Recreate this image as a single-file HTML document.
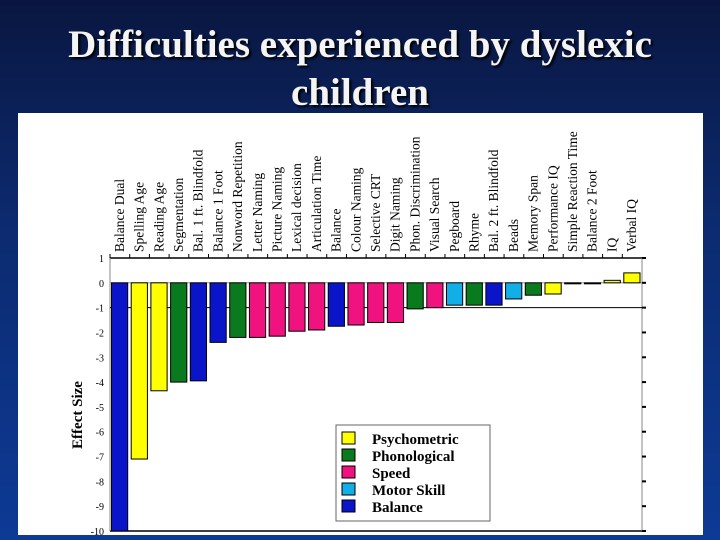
<!DOCTYPE html>
<html><head><meta charset="utf-8"><style>
html,body{margin:0;padding:0}
body{width:720px;height:540px;overflow:hidden;background:linear-gradient(180deg,#0a1640 0%,#0c2a6e 40%,#0d3a96 100%);font-family:"Liberation Serif",serif;position:relative}
#title{position:absolute;left:0;top:21px;width:720px;text-align:center;color:#f4f4f4;font-size:39px;font-weight:bold;line-height:48px;text-shadow:2px 2px 2px #000}
#panel{position:absolute;left:18px;top:113px;width:685px;height:422px;background:#fff}
svg{position:absolute;left:0;top:0}
</style></head><body>
<div id="title">Difficulties experienced by dyslexic<br>children</div>
<div id="panel"></div>
<svg id="chart" width="720" height="540"></svg>
<script>
const categories=["Balance Dual","Spelling Age","Reading Age","Segmentation","Bal. 1 ft. Blindfold","Balance 1 Foot","Nonword Repetition","Letter Naming","Picture Naming","Lexical decision","Articulation Time","Balance","Colour Naming","Selective CRT","Digit Naming","Phon. Discrimination","Visual Search","Pegboard","Rhyme","Bal. 2 ft. Blindfold","Beads","Memory Span","Performance IQ","Simple Reaction Time","Balance 2 Foot","IQ","Verbal IQ"];
const values=[-10,-7.1,-4.35,-4.0,-3.95,-2.4,-2.2,-2.2,-2.15,-1.95,-1.9,-1.75,-1.7,-1.6,-1.6,-1.05,-1.0,-0.9,-0.9,-0.9,-0.65,-0.5,-0.45,-0.02,-0.02,0.1,0.4];
const groups=["Balance","Psychometric","Psychometric","Phonological","Balance","Balance","Phonological","Speed","Speed","Speed","Speed","Balance","Speed","Speed","Speed","Phonological","Speed","Motor Skill","Phonological","Balance","Motor Skill","Phonological","Psychometric","Speed","Balance","Psychometric","Psychometric"];
const legendLabels=["Psychometric","Phonological","Speed","Motor Skill","Balance"];
const yTicks=[1,0,-1,-2,-3,-4,-5,-6,-7,-8,-9,-10];
const colors={"Psychometric":"#ffff00","Phonological":"#0a7a1e","Speed":"#f0127e","Motor Skill":"#12aee8","Balance":"#0a14c8"};
const NS="http://www.w3.org/2000/svg";
const svg=document.getElementById('chart');
const X0=110,X1=642,Ytop=258,Ybot=531;
const yMax=1,yMin=-10;
function y(v){return Ytop+(yMax-v)/(yMax-yMin)*(Ybot-Ytop);}
const bw=(X1-X0)/categories.length;
function x(i){return X0+i*bw;}
function mk(t,a){const e=document.createElementNS(NS,t);for(const k in a)e.setAttribute(k,a[k]);svg.appendChild(e);return e;}
let e=mk('line',{x1:X0,y1:Ytop,x2:X1,y2:Ytop,stroke:'#000','stroke-width':1.5});

e=mk('line',{x1:X0,y1:Ybot,x2:X1,y2:Ybot,stroke:'#000','stroke-width':1.5});

e=mk('line',{x1:X0,y1:Ytop,x2:X0,y2:Ybot,stroke:'#888','stroke-width':1});

e=mk('line',{x1:X1,y1:Ytop,x2:X1,y2:Ybot,stroke:'#888','stroke-width':1});

e=mk('line',{x1:X0,y1:y(-1),x2:X1,y2:y(-1),stroke:'#000','stroke-width':1});

e=mk('line',{x1:X0,y1:y(0),x2:X1,y2:y(0),stroke:'#888','stroke-width':0.8});

yTicks.forEach(t=>{
 const tx=mk('text',{x:X0-6,y:y(t)+4,'text-anchor':'end','font-size':10,'font-family':'Liberation Serif, serif'});
 tx.textContent=t;
 
 const tk=mk('line',{x1:X1,y1:y(t),x2:X1+4,y2:y(t),stroke:'#000','stroke-width':2});
 
});
const yt=mk('text',{x:82,y:415,'text-anchor':'middle','font-size':15,'font-weight':'bold','font-family':'Liberation Serif, serif',transform:'rotate(-90 82 415)'});
yt.textContent='Effect Size';

categories.forEach((c,i)=>{
 const v=values[i];
 const top=Math.min(y(v),y(0)),h=Math.max(Math.abs(y(v)-y(0)),1);
 const r=mk('rect',{x:x(i)+1.5,y:top,width:bw-3.5,height:h,fill:colors[groups[i]],stroke:'#000','stroke-width':1});
 
 
 const cx=x(i)+bw/2+4;
 const t=mk('text',{x:cx,y:252,'font-size':13.5,'font-family':'Liberation Serif, serif',transform:'rotate(-90 '+cx+' 252)'});
 t.textContent=c;
 
 const tk=mk('line',{x1:x(i),y1:Ytop,x2:x(i),y2:Ytop-4,stroke:'#000'});
 
});
const lg=mk('rect',{x:336,y:425,width:154,height:96,fill:'#fff',stroke:'#666','stroke-width':1});

legendLabels.forEach((l,i)=>{
 const yy=432+i*17;
 const s=mk('rect',{x:342,y:yy,width:13,height:12,fill:colors[l],stroke:'#000','stroke-width':1});
 
 const t=mk('text',{x:372,y:yy+12,'font-size':15,'font-weight':'bold','font-family':'Liberation Serif, serif'});
 t.textContent=l;
 
});
</script>
</body></html>
